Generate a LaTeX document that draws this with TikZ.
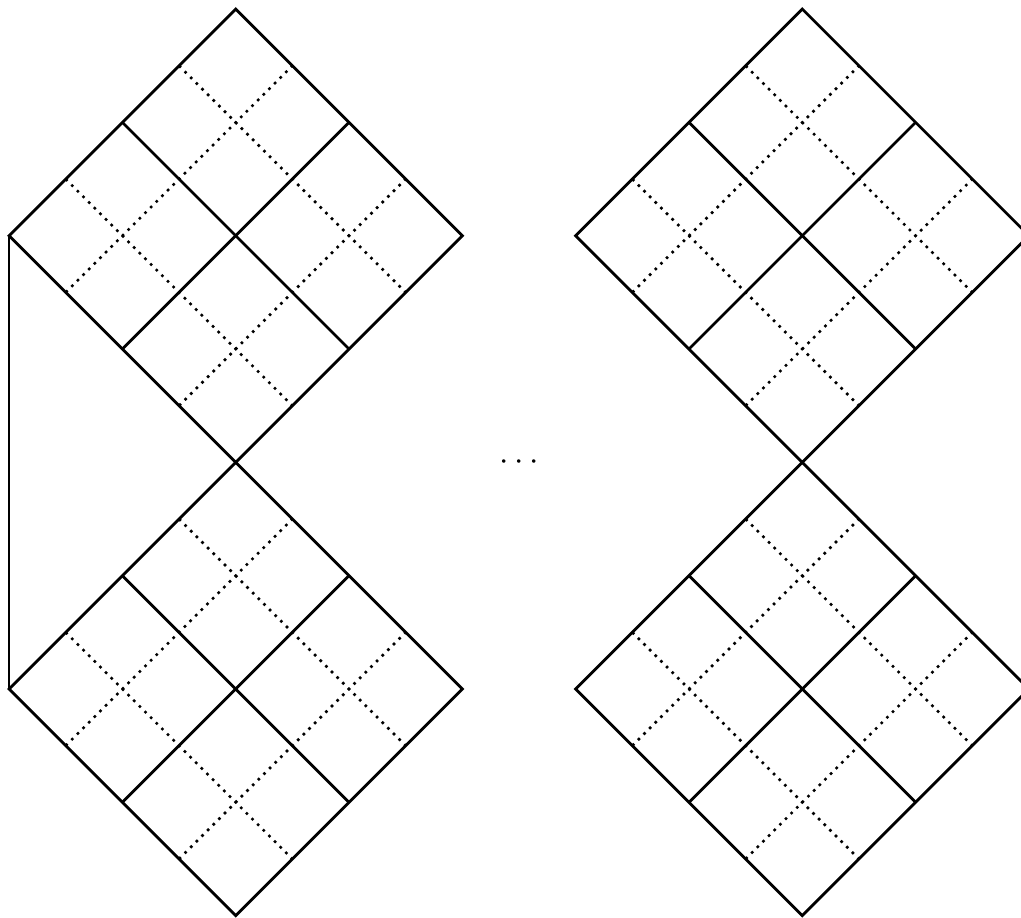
\documentclass[tikz,border=0pt]{standalone}
\usepackage{tikz}

\begin{document}
\begin{tikzpicture}[
  cell/.style={line width=0.7pt},
  sub/.style={line width=0.65pt, dash pattern=on 0.65pt off 1.35pt}]
  \useasboundingbox (-2.08,-4.02) rectangle (6.93,4.08);
  \foreach \cx/\cy/\nm in {0/2/tl,0/-2/bl,5/2/tr,5/-2/br}{
    \begin{scope}[shift={(\cx,\cy)}]
      \foreach \c in {-1,1}{
        \draw[sub] ({(\c-2)/2},{(\c+2)/2}) -- ({(\c+2)/2},{(\c-2)/2});
        \draw[sub] ({(\c-2)/2},{(-\c-2)/2}) -- ({(\c+2)/2},{(2-\c)/2});
      }
      \draw[cell] (-1,1) -- (1,-1);
      \draw[cell] (-1,-1) -- (1,1);
      \draw[cell] (-2,0) coordinate (\nm-w) -- (0,2) -- (2,0) -- (0,-2) -- cycle;
    \end{scope}}
  \draw[cell] (tl-w) -- (bl-w);
  \node (gap) at (2.5,0) {\footnotesize$\cdots$};
\end{tikzpicture}
\end{document}
